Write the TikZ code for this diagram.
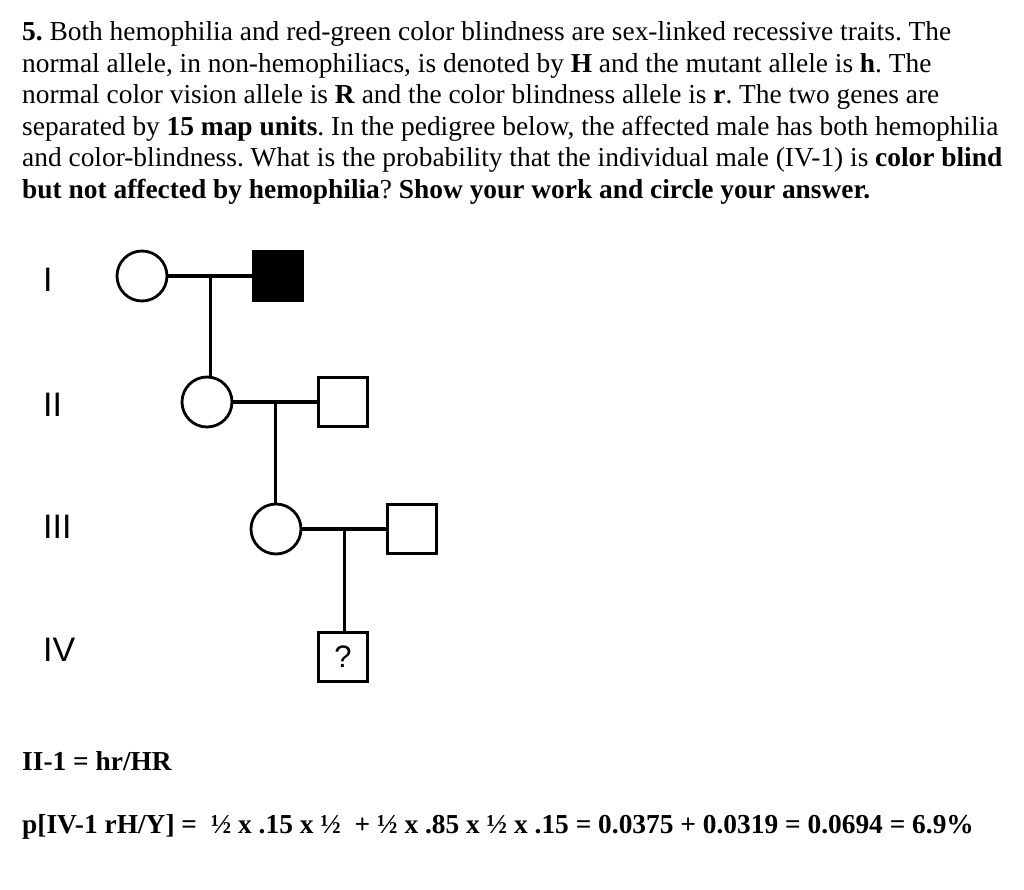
\documentclass[tikz,border=0pt]{standalone}
\usepackage{fontspec}
\setmainfont{Liberation Serif}
\newfontfamily\pedfont{Liberation Sans}
\frenchspacing
\tikzset{
  female/.style={circle,draw,line width=2.8pt,minimum size=50pt,inner sep=0pt},
  male/.style={rectangle,draw,line width=2.8pt,minimum size=49pt,inner sep=0pt},
  gen/.style={anchor=west,inner sep=0pt,font=\pedfont\fontsize{34}{34}\selectfont},
  qline/.style={anchor=base west,inner sep=0pt,font=\fontsize{27.4}{32}\selectfont},
}
\begin{document}
\begin{tikzpicture}[x=1pt,y=-1pt]
  \useasboundingbox (0,0) rectangle (1024,890);

  % question text
  \node[qline] (q1) at (22,41)  {\textbf{5.} Both hemophilia and red-green color blindness are sex-linked recessive traits. The};
  \node[qline] (q2) at (22,73)  {normal allele, in non-hemophiliacs, is denoted by \textbf{H} and the mutant allele is \textbf{h}. The};
  \node[qline] (q3) at (22,104) {normal color vision allele is \textbf{R} and the color blindness allele is \textbf{r}. The two genes are};
  \node[qline] (q4) at (22,136) {separated by \textbf{15 map units}. In the pedigree below, the affected male has both hemophilia};
  \node[qline] (q5) at (22,167) {and color-blindness. What is the probability that the individual male (IV-1) is \textbf{color blind}};
  \node[qline] (q6) at (22,199) {\textbf{but not affected by hemophilia}? \textbf{Show your work and circle your answer.}};

  % generations
  \node[gen] (g1) at (43,280) {I};
  \node[gen] (g2) at (43,405) {II};
  \node[gen] (g3) at (43,527) {III};
  \node[gen] (g4) at (43,650) {IV};

  % pedigree
  \node[female] (i1) at (142,276) {};
  \node[male,fill=black] (i2) at (278,276) {};
  \node[female] (ii1) at (207,402) {};
  \node[male] (ii2) at (343,402) {};
  \node[female] (iii1) at (276,529) {};
  \node[male] (iii2) at (412,529) {};
  \node[male,font=\pedfont\fontsize{31}{31}\selectfont] (iv1) at (343,657) {?};

  \begin{scope}[line width=3.2pt]
    \draw (i1) -- (i2) coordinate[midway] (m1);
    \draw (ii1) -- (ii2) coordinate[midway] (m2);
    \draw (iii1) -- (iii2) coordinate[midway] (m3);
    \draw (m1) -- (m1 |- ii1.north);
    \draw (m2) -- (m2 |- iii1.north);
    \draw (m3) -- (m3 |- iv1.north);
  \end{scope}

  % answer
  \node[qline,font=\bfseries\fontsize{27.4}{32}\selectfont] (a1) at (22,770) {II-1 = hr/HR};
  \node[qline,font=\bfseries\fontsize{27.4}{32}\selectfont] (a2) at (22,833) {p[IV-1 rH/Y] =\ \ ½ x .15 x ½\ \ + ½ x .85 x ½ x .15 = 0.0375 + 0.0319 = 0.0694 = 6.9\%};
\end{tikzpicture}
\end{document}
